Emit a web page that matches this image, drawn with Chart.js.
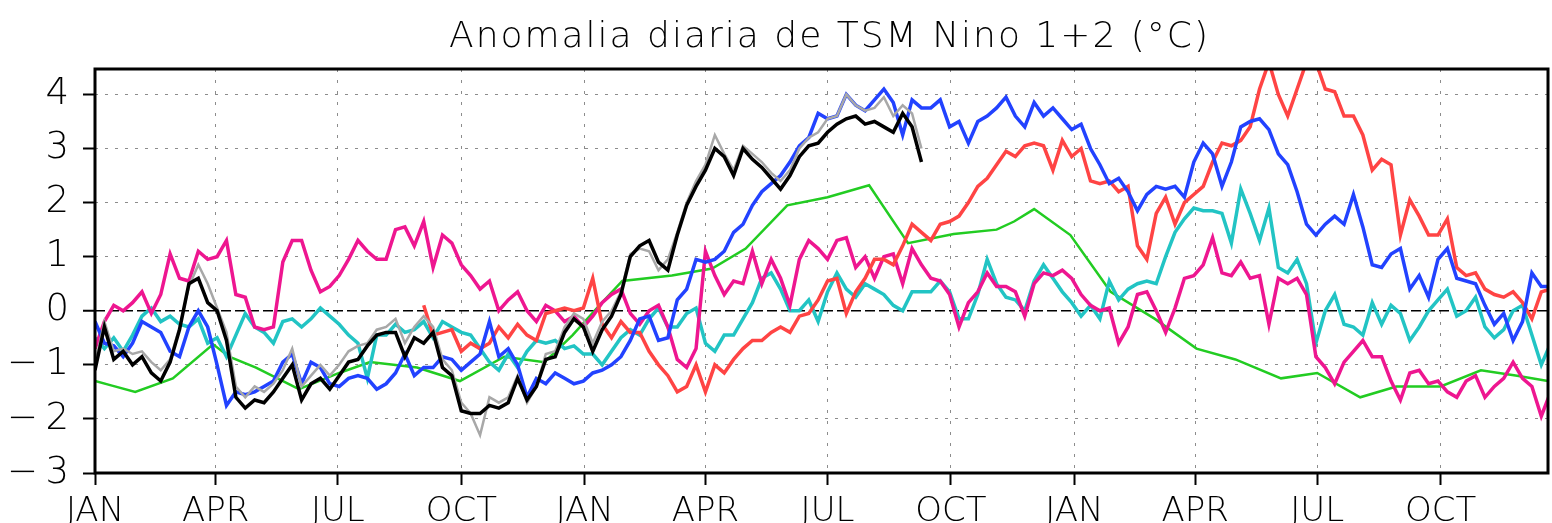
<!DOCTYPE html>
<html>
<head>
<meta charset="utf-8">
<title>Anomalia diaria de TSM Nino 1+2</title>
<script src="https://cdn.jsdelivr.net/npm/chart.js@4.4.1/dist/chart.umd.min.js"></script>
<style>
  html, body { margin: 0; padding: 0; background: #fff; }
  #wrap { width: 1552px; height: 523px; }
</style>
</head>
<body>
<div id="wrap"><canvas id="tsmChart" width="1552" height="523"></canvas></div>
<script>
const titleText = "Anomalia diaria de TSM Nino 1+2 (°C)";

// eje x: dias desde el 1 de enero del primer año (tres años)
const dayMax = 1083;
const monthTickDays = [0, 90, 181, 273, 365, 455, 546, 638, 730, 820, 911, 1003];
const monthTickNames = ["JAN", "APR", "JUL", "OCT", "JAN", "APR", "JUL", "OCT", "JAN", "APR", "JUL", "OCT"];
const yTickValues = [-3, -2, -1, 0, 1, 2, 3, 4];

// series diarias leidas cada 7 dias
const weekStep = 7;

const blackStart = 0;
const blackVals = [
  -1.1, -0.3, -0.9, -0.75, -1.0, -0.85, -1.15, -1.3, -0.95, -0.35,
  0.5, 0.6, 0.15, 0.0, -0.55, -1.6, -1.8, -1.65, -1.7, -1.5,
  -1.25, -1.0, -1.65, -1.35, -1.25, -1.45, -1.2, -0.95, -0.9, -0.65,
  -0.45, -0.4, -0.4, -0.85, -0.5, -0.6, -0.4, -1.05, -1.2, -1.85,
  -1.9, -1.9, -1.75, -1.8, -1.7, -1.25, -1.65, -1.4, -0.9, -0.85,
  -0.4, -0.15, -0.3, -0.75, -0.35, -0.1, 0.3, 1.0, 1.2, 1.3,
  0.9, 0.75, 1.4, 1.95, 2.3, 2.6, 3.0, 2.85, 2.5, 3.0,
  2.8, 2.65, 2.45, 2.25, 2.5, 2.85, 3.05, 3.1, 3.3, 3.45,
  3.55, 3.6, 3.45, 3.5, 3.4, 3.3, 3.65, 3.4, 2.75
];

const grayStart = 0;
const grayVals = [
  -1.0, -0.2, -0.75, -0.7, -0.8, -0.75, -0.95, -1.1, -0.9, -0.3,
  0.45, 0.85, 0.5, 0.05, -0.4, -1.4, -1.6, -1.4, -1.5, -1.35,
  -1.1, -0.7, -1.4, -1.2, -1.0, -1.2, -1.0, -0.75, -0.65, -0.6,
  -0.35, -0.3, -0.15, -0.6, -0.3, -0.1, -0.3, -0.9, -1.1, -1.7,
  -1.9, -2.3, -1.6, -1.7, -1.6, -1.2, -1.7, -1.4, -0.8, -0.75,
  -0.3, -0.05, -0.15, -0.6, -0.2, 0.0, 0.35, 1.05, 1.15, 1.1,
  0.75, 0.95, 1.45, 2.0, 2.4, 2.7, 3.25, 2.9, 2.6, 3.05,
  2.9, 2.75, 2.55, 2.4, 2.6, 3.0, 3.2, 3.3, 3.55, 3.6,
  4.0, 3.8, 3.7, 3.75, 3.95, 3.6, 3.8, 3.65, 3.0
];

const blueStart = 0;
const blueVals = [
  -0.2, -0.6, -0.65, -0.85, -0.6, -0.2, -0.3, -0.4, -0.75, -0.85,
  -0.3, 0.0, -0.3, -1.0, -1.75, -1.5, -1.55, -1.5, -1.4, -1.3,
  -0.95, -0.8, -1.35, -0.95, -1.05, -1.35, -1.4, -1.25, -1.2, -1.25,
  -1.45, -1.35, -1.15, -0.8, -1.2, -1.05, -1.05, -0.85, -0.9, -1.1,
  -0.95, -0.8, -0.2, -0.85, -0.7, -1.0, -1.6, -1.25, -1.35, -1.15,
  -1.25, -1.35, -1.3, -1.15, -1.1, -1.0, -0.85, -0.55, -0.15, -0.1,
  -0.55, -0.5, 0.2, 0.4, 0.95, 0.9, 0.95, 1.1, 1.45, 1.6,
  1.95, 2.2, 2.35, 2.5, 2.75, 3.05, 3.2, 3.65, 3.55, 3.6,
  4.0, 3.8, 3.7, 3.9, 4.1, 3.85, 3.25, 3.9, 3.75, 3.75,
  3.9, 3.4, 3.5, 3.1, 3.5, 3.6, 3.75, 3.95, 3.6, 3.4,
  3.85, 3.6, 3.75, 3.55, 3.35, 3.45, 3.0, 2.7, 2.35, 2.45,
  2.2, 1.85, 2.15, 2.3, 2.25, 2.3, 2.1, 2.75, 3.1, 2.9,
  2.3, 2.75, 3.4, 3.5, 3.55, 3.35, 2.9, 2.7, 2.2, 1.6,
  1.4, 1.6, 1.75, 1.6, 2.15, 1.55, 0.85, 0.8, 1.05, 1.15,
  0.4, 0.65, 0.25, 0.95, 1.15, 0.6, 0.55, 0.5, 0.1, -0.25,
  -0.05, -0.55, -0.2, 0.7, 0.45, 0.45
];

const redStart = 245;
const redVals = [
  0.1, -0.45, -0.4, -0.35, -0.75, -0.6, -0.7, -0.6, -0.3, -0.5,
  -0.25, -0.45, -0.55, -0.05, 0.0, 0.05, 0.0, 0.05, 0.6, -0.25,
  -0.5, -0.2, -0.4, -0.4, -0.75, -1.0, -1.2, -1.5, -1.4, -1.0,
  -1.5, -1.0, -1.15, -0.9, -0.7, -0.55, -0.55, -0.4, -0.3, -0.4,
  -0.1, -0.05, 0.2, 0.55, 0.6, -0.05, 0.35, 0.6, 0.95, 0.95,
  0.85, 1.2, 1.6, 1.45, 1.3, 1.6, 1.65, 1.75, 2.0, 2.3,
  2.45, 2.7, 2.95, 2.85, 3.05, 3.1, 3.05, 2.6, 3.15, 2.85,
  3.0, 2.4, 2.35, 2.4, 2.2, 2.3, 1.2, 0.95, 1.8, 2.1,
  1.6, 2.0, 2.15, 2.3, 2.75, 3.1, 3.05, 3.15, 3.4, 4.1,
  4.6, 4.0, 3.6, 4.1, 4.6, 4.6, 4.1, 4.05, 3.6, 3.6,
  3.25, 2.6, 2.8, 2.7, 1.4, 2.05, 1.75, 1.4, 1.4, 1.7,
  0.8, 0.65, 0.7, 0.4, 0.3, 0.25, 0.35, 0.15, -0.15, 0.35,
  0.4
];

const magentaStart = 0;
const magentaVals = [
  -0.7, -0.2, 0.1, 0.0, 0.15, 0.35, -0.05, 0.3, 1.05, 0.6,
  0.55, 1.1, 0.95, 1.0, 1.3, 0.3, 0.25, -0.3, -0.35, -0.3,
  0.9, 1.3, 1.3, 0.75, 0.35, 0.45, 0.65, 0.95, 1.3, 1.1,
  0.95, 0.95, 1.5, 1.55, 1.2, 1.65, 0.8, 1.4, 1.25, 0.85,
  0.65, 0.4, 0.55, 0.0, 0.2, 0.35, 0.0, -0.2, 0.1, 0.0,
  -0.2, -0.1, -0.3, -0.1, 0.15, 0.3, 0.4, -0.05, -0.25, 0.0,
  0.1, -0.3, -0.9, -1.05, -0.7, 1.1, 0.65, 0.3, 0.55, 0.5,
  1.1, 0.5, 0.95, 0.6, 0.1, 0.95, 1.3, 1.15, 0.95, 1.3,
  1.35, 0.8, 1.0, 0.6, 1.0, 1.05, 0.5, 1.15, 0.85, 0.6,
  0.55, 0.3, -0.3, 0.15, 0.35, 0.7, 0.45, 0.45, 0.35, -0.1,
  0.5, 0.7, 0.65, 0.75, 0.6, 0.3, 0.1, 0.0, 0.05, -0.6,
  -0.3, 0.3, 0.35, 0.0, -0.4, 0.05, 0.6, 0.65, 0.85, 1.35,
  0.7, 0.65, 0.9, 0.6, 0.65, -0.25, 0.6, 0.5, 0.6, 0.3,
  -0.85, -1.05, -1.35, -0.95, -0.75, -0.55, -0.85, -0.85, -1.3, -1.65,
  -1.15, -1.1, -1.35, -1.3, -1.5, -1.6, -1.3, -1.2, -1.6, -1.4,
  -1.25, -0.95, -1.25, -1.4, -1.95, -1.5
];

const cyanStart = 0;
const cyanVals = [
  -0.5, -0.7, -0.5, -0.75, -0.45, -0.1, 0.05, -0.2, -0.1, -0.25,
  -0.3, -0.15, -0.6, -0.5, -0.85, -0.45, -0.05, -0.3, -0.4, -0.6,
  -0.2, -0.15, -0.3, -0.15, 0.05, -0.1, -0.25, -0.45, -0.6, -1.25,
  -0.45, -0.45, -0.25, -0.4, -0.35, -0.2, -0.5, -0.2, -0.3, -0.4,
  -0.45, -0.7, -0.95, -1.1, -0.8, -1.05, -0.75, -0.55, -0.6, -0.55,
  -0.7, -0.65, -0.8, -0.8, -1.0, -0.75, -0.5, -0.35, -0.45, -0.15,
  0.05, -0.3, -0.3, -0.05, 0.05, -0.6, -0.75, -0.45, -0.45, -0.15,
  0.15, 0.6, 0.7, 0.4, 0.0, 0.0, 0.2, -0.2, 0.35, 0.7,
  0.4, 0.25, 0.5, 0.4, 0.3, 0.1, 0.0, 0.35, 0.35, 0.35,
  0.55, 0.35, -0.15, -0.15, 0.3, 0.95, 0.5, 0.25, 0.2, 0.0,
  0.55, 0.85, 0.6, 0.35, 0.15, -0.1, 0.1, -0.15, 0.55, 0.2,
  0.4, 0.5, 0.55, 0.5, 1.0, 1.45, 1.7, 1.9, 1.85, 1.85,
  1.8, 1.25, 2.25, 1.8, 1.3, 1.9, 0.8, 0.7, 0.95, 0.5,
  -0.6, 0.0, 0.3, -0.25, -0.3, -0.45, 0.15, -0.25, 0.1, -0.05,
  -0.55, -0.3, 0.0, 0.2, 0.4, -0.1, 0.0, 0.25, -0.3, -0.5,
  -0.35, 0.0, 0.1, -0.45, -1.0, -0.6
];

// serie suavizada (mensual)
const greenDays = [0, 12, 30, 58, 88, 100, 120, 152, 182, 205, 240, 272, 305, 335, 356, 376, 393, 430, 460, 485,
  516, 546, 577, 606, 640, 672, 685, 700, 727, 757, 790, 821, 850, 884, 911, 943, 970, 1003, 1033, 1060, 1083];
const greenVals = [-1.3, -1.38, -1.5, -1.25, -0.62, -0.85, -1.05, -1.45, -1.15, -0.95, -1.05, -1.3, -0.85, -0.95, -0.45, 0.1, 0.55, 0.65, 0.78, 1.15,
  1.95, 2.1, 2.32, 1.25, 1.42, 1.5, 1.65, 1.88, 1.4, 0.35, -0.15, -0.7, -0.9, -1.25, -1.15, -1.6, -1.4, -1.4, -1.1, -1.2, -1.3];

function weekly(start, vals) {
  return vals.map((v, i) => ({ x: start + i * weekStep, y: v }));
}

const tickFont = { family: "'DejaVu Sans'", size: 37, weight: 200 };
const monthFont = { family: "'DejaVu Sans'", size: 34, weight: 200 };

const titlePlugin = {
  id: 'titleText',
  afterDraw(chart) {
    const { ctx, chartArea } = chart;
    ctx.save();
    ctx.font = "200 36px 'DejaVu Sans'";
    ctx.letterSpacing = '2px';
    ctx.fillStyle = '#000';
    ctx.textAlign = 'center';
    ctx.textBaseline = 'alphabetic';
    ctx.fillText(titleText, (chartArea.left + chartArea.right) / 2 + 8, chartArea.top - 22);
    ctx.restore();
  }
};

const framePlugin = {
  id: 'frame',
  afterDatasetsDraw(chart) {
    const { ctx, chartArea: a } = chart;
    ctx.save();
    ctx.lineWidth = 3;
    ctx.strokeStyle = '#000';
    ctx.strokeRect(a.left, a.top, a.right - a.left, a.bottom - a.top);
    ctx.restore();
  }
};

function line(data, color, width) {
  return { data: data, borderColor: color, borderWidth: width, pointRadius: 0, tension: 0, fill: false };
}

window.onload = function () {
  const ctx = document.getElementById("tsmChart").getContext("2d");
  new Chart(ctx, {
    type: 'line',
    data: {
      datasets: [
        line(weekly(blackStart, blackVals), '#000000', 3.5),
        line(weekly(grayStart, grayVals), '#a8a8a8', 2.5),
        line(weekly(blueStart, blueVals), '#2242ff', 3.5),
        line(weekly(redStart, redVals), '#ff4444', 3.5),
        line(weekly(magentaStart, magentaVals), '#ee1690', 3.5),
        line(weekly(cyanStart, cyanVals), '#22c4c4', 3.5),
        line(greenDays.map((d, i) => ({ x: d, y: greenVals[i] })), '#22cc22', 2.5)
      ]
    },
    options: {
      responsive: false,
      animation: false,
      devicePixelRatio: 1,
      layout: { padding: { top: 69, right: 4, left: 0, bottom: 0 } },
      plugins: {
        legend: { display: false },
        tooltip: { enabled: false },
        title: { display: false }
      },
      scales: {
        x: {
          type: 'linear',
          min: 0,
          max: dayMax,
          afterBuildTicks: s => { s.ticks = monthTickDays.map(v => ({ value: v })); },
          afterFit: s => { s.height = 50; },
          ticks: {
            autoSkip: false,
            maxRotation: 0,
            padding: 7,
            color: '#000',
            font: monthFont,
            callback: (v, i) => monthTickNames[i]
          },
          grid: {
            color: '#8c8c8c',
            lineWidth: 1,
            tickLength: 12,
            tickWidth: 2,
            tickColor: '#000',
            tickBorderDash: []
          },
          border: { display: false, dash: [3, 8] }
        },
        y: {
          min: -3,
          max: 4.47,
          afterBuildTicks: s => { s.ticks = yTickValues.map(v => ({ value: v })); },
          afterFit: s => { s.width = 95; },
          ticks: {
            padding: 14,
            color: '#000',
            font: tickFont,
            callback: v => v < 0 ? '\u2212\u2009' + Math.abs(v) : String(v)
          },
          grid: {
            color: c => (c.tick && c.tick.value === 0) ? '#000' : '#8c8c8c',
            lineWidth: c => (c.tick && c.tick.value === 0) ? 1.5 : 1,
            tickLength: 12,
            tickWidth: 2,
            tickColor: '#000',
            tickBorderDash: []
          },
          border: { display: false, dash: c => (c.tick && c.tick.value === 0) ? [10, 4] : [3, 7] }
        }
      }
    },
    plugins: [titlePlugin, framePlugin]
  });
};
</script>
</body>
</html>
